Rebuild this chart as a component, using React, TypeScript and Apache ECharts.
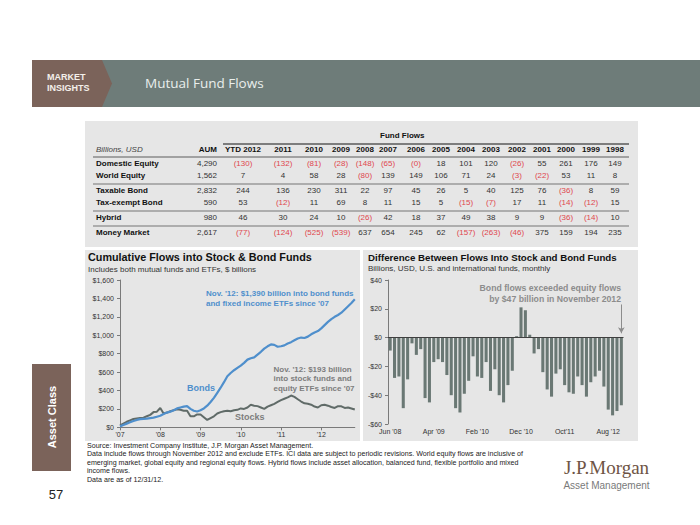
import React, { useEffect, useRef } from "react";
import * as echarts from "echarts";

const FONT = "'Liberation Sans', Arial, sans-serif";

// ---------- Table data ----------
const tableColumns = ["AUM", "YTD 2012", "2011", "2010", "2009", "2008", "2007", "2006", "2005", "2004", "2003", "2002", "2001", "2000", "1999", "1998"];
const assetClasses = ["Domestic Equity", "World Equity", "Taxable Bond", "Tax-exempt Bond", "Hybrid", "Money Market"];
const domesticEquity = [4290, -130, -132, -81, -28, -148, -65, -0, 18, 101, 120, -26, 55, 261, 176, 149];
const worldEquity = [1562, 7, 4, 58, 28, -80, 139, 149, 106, 71, 24, -3, -22, 53, 11, 8];
const taxableBond = [2832, 244, 136, 230, 311, 22, 97, 45, 26, 5, 40, 125, 76, -36, 8, 59];
const taxExemptBond = [590, 53, -12, 11, 69, 8, 11, 15, 5, -15, -7, 17, 11, -14, -12, 15];
const hybrid = [980, 46, 30, 24, 10, -26, 42, 18, 37, 49, 38, 9, 9, -36, -14, 10];
const moneyMarket = [2617, -77, -124, -525, -539, 637, 654, 245, 62, -157, -263, -46, 375, 159, 194, 235];
const tableRows = [domesticEquity, worldEquity, taxableBond, taxExemptBond, hybrid, moneyMarket];

// ---------- Cumulative flows (monthly, Jan '07 - Nov '12), $ billions ----------
const lineYearTicks = ["'07", "'08", "'09", "'10", "'11", "'12"];
const bondsCumulative = [
  10, 25, 40, 55, 68, 80, 88, 92, 95, 100, 105, 115,
  125, 145, 160, 170, 185, 205, 215, 225, 230, 200, 180, 172,
  185, 205, 235, 275, 320, 375, 430, 490, 555, 590, 620, 645,
  670, 700, 735, 750, 760, 790, 820, 855, 880, 900, 895, 875,
  880, 890, 910, 925, 945, 965, 975, 970, 985, 1010, 1030, 1045,
  1075, 1110, 1145, 1175, 1200, 1220, 1245, 1280, 1315, 1350, 1390,
];
const stocksCumulative = [
  20, 40, 60, 75, 90, 95, 100, 105, 120, 135, 165, 170,
  210, 150, 160, 175, 185, 195, 190, 180, 180, 120, 120, 140,
  140, 110, 80, 100, 120, 150, 165, 175, 180, 175, 185, 190,
  205, 200, 215, 245, 235, 230, 215, 200, 225, 240, 255, 275,
  295, 310, 325, 345, 330, 305, 280, 260, 255, 245, 225, 215,
  240, 245, 235, 220, 210, 230, 228, 210, 215, 205, 193,
];

// ---------- Monthly difference (Jun '08 - Nov '12), $ billions ----------
const barTickLabels = ["Jun '08", "Apr '09", "Feb '10", "Dec '10", "Oct'11", "Aug '12"];
const flowDifference = [
  -9, -28, -27, -49, -29, -4, -12, -8, -42, -45,
  -17, -15, -17, -26, -40, -49, -52, -39, -30, -13,
  -27, -28, -17, -37, -22, -40, -45, -33, -23, 1,
  21, 19, 2, -11, -8, -24, -36, -41, -25, -22,
  -33, -38, -39, -27, -33, -41, -31, -27, -23, -34,
  -50, -54, -51, -47,
];

const MONTHS = ["Jan", "Feb", "Mar", "Apr", "May", "Jun", "Jul", "Aug", "Sep", "Oct", "Nov", "Dec"];
const monthRange = (startYear: number, startMonth: number, count: number) => {
  const out: string[] = [];
  for (let i = 0; i < count; i++) {
    const m = startMonth + i;
    const y = startYear + Math.floor(m / 12);
    out.push(`${MONTHS[m % 12]} '${String(y % 100).padStart(2, "0")}`);
  }
  return out;
};
const lineMonths = monthRange(2007, 0, bondsCumulative.length);
const barMonths = monthRange(2008, 5, flowDifference.length);

const fmtFlow = (v: number) => (v < 0 || Object.is(v, -0) ? `(${Math.abs(v)})` : String(v));
const isNeg = (v: number) => v < 0 || Object.is(v, -0);

function txt(text: string, x: number, y: number, o: any = {}) {
  const align = o.align || "left";
  const size = o.size || 8;
  const weight = o.weight || "normal";
  const style = o.italic ? "italic " : "";
  return {
    type: "text",
    x,
    y,
    rotation: o.rotation || 0,
    z: 20,
    silent: true,
    style: {
      text,
      fill: o.color || "#222",
      font: `${style}${weight} ${size}px ${o.family || FONT}`,
      textAlign: align,
      align,
      textVerticalAlign: "middle",
      verticalAlign: "middle",
    },
  };
}

function rect(x: number, y: number, w: number, h: number, fill: string, z = -5) {
  return { type: "rect", z, silent: true, shape: { x, y, width: w, height: h }, style: { fill } };
}
function hline(x1: number, x2: number, y: number, color: string, width: number) {
  return { type: "line", z: 5, silent: true, shape: { x1, y1: y, x2, y2: y }, style: { stroke: color, lineWidth: width } };
}

export default function App() {
  const ref = useRef<HTMLDivElement>(null);
  useEffect(() => {
    if (!ref.current) return;
    const chart = echarts.init(ref.current, undefined, { renderer: "svg" });

    const PANEL = "#e6e6e6";
    const els: any[] = [];
    // header band
    els.push(rect(32, 60, 668, 47, "#6e7c79", -4));
    els.push({
      type: "polygon", z: -3, silent: true,
      shape: { points: [[32, 60], [102, 60], [112, 83.5], [102, 107], [32, 107]] },
      style: { fill: "#7b635a" },
    });
    els.push(txt("MARKET", 47, 77, { size: 9, weight: "bold", color: "#f4f0ea" }));
    els.push(txt("INSIGHTS", 47, 87.5, { size: 9, weight: "bold", color: "#f4f0ea" }));
    els.push(txt("Mutual Fund Flows", 145, 83, { size: 13.5, color: "#e9eeec", family: "'Open Sans', sans-serif" }));

    // panels
    els.push(rect(85, 121, 553, 126, PANEL));
    els.push(rect(85, 250, 275, 191, PANEL));
    els.push(rect(363, 250, 275, 191, PANEL));

    // asset class tab
    els.push(rect(32, 364, 39, 107, "#7b635a", -4));
    els.push(txt("Asset Class", 52, 417, { size: 11, weight: "bold", color: "#ffffff", align: "center", rotation: Math.PI / 2 }));
    els.push(txt("57", 56, 494, { size: 13, color: "#222", align: "center" }));

    // table
    const colX = [217, 243, 283, 314, 341, 365, 388, 416, 441, 466, 491, 517, 542, 566, 591, 615];
    const rowY = [163.3, 175.3, 190.3, 202.3, 217.7, 232.3];
    els.push(txt("Fund Flows", 380, 135, { size: 8, weight: "bold", color: "#111" }));
    els.push(hline(223, 629, 144, "#7d7d7d", 2));
    els.push(txt("Billions, USD", 96, 149.5, { size: 8, italic: true, color: "#444" }));
    tableColumns.forEach((c, i) => {
      els.push(txt(c, colX[i], 149.5, { size: 8, weight: "bold", color: "#111", align: i === 0 ? "right" : "center" }));
    });
    els.push(hline(93, 629, 157, "#8a8a8a", 1.5));
    [184, 211, 226].forEach((y) => els.push(hline(93, 629, y, "#9a9a9a", 1.5)));
    assetClasses.forEach((name, r) => {
      els.push(txt(name, 96, rowY[r], { size: 8, weight: "bold", color: "#111" }));
      tableRows[r].forEach((v, i) => {
        if (i === 0) {
          els.push(txt(v.toLocaleString("en-US"), colX[0], rowY[r], { size: 8, color: "#333", align: "right" }));
        } else {
          els.push(txt(fmtFlow(v), colX[i], rowY[r], { size: 8, color: isNeg(v) ? "#e0464e" : "#333", align: "center" }));
        }
      });
    });

    // chart titles
    els.push(txt("Cumulative Flows into Stock & Bond Funds", 88, 257, { size: 10.8, weight: "bold", color: "#111" }));
    els.push(txt("Includes both mutual funds and ETFs, $ billions", 88, 269, { size: 8, color: "#333" }));
    els.push(txt("Difference Between Flows Into Stock and Bond Funds", 368, 257, { size: 9.7, weight: "bold", color: "#111" }));
    els.push(txt("Billions, USD, U.S. and international funds, monthly", 368, 268.5, { size: 8, color: "#333" }));

    // left annotations
    const BLUE = "#4f8fcc";
    els.push(txt("Nov. '12: $1,390 billion into bond funds", 206, 293.3, { size: 8, weight: "bold", color: BLUE }));
    els.push(txt("and fixed income ETFs since '07", 206, 303.3, { size: 8, weight: "bold", color: BLUE }));
    els.push(txt("Bonds", 187, 388, { size: 9, weight: "bold", color: BLUE }));
    els.push(txt("Nov. '12: $193 billion", 273.5, 369, { size: 8, weight: "bold", color: "#7d7d7d" }));
    els.push(txt("into stock funds and", 273.5, 378.7, { size: 8, weight: "bold", color: "#7d7d7d" }));
    els.push(txt("equity ETFs since '07", 273.5, 388.3, { size: 8, weight: "bold", color: "#7d7d7d" }));
    els.push(txt("Stocks", 235, 416.7, { size: 9, weight: "bold", color: "#7d7d7d" }));

    // right annotation
    els.push(txt("Bond flows exceeded equity flows", 621, 288.3, { size: 8.7, weight: "bold", color: "#8c8c8c", align: "right" }));
    els.push(txt("by $47 billion in November 2012", 621, 299.3, { size: 8.7, weight: "bold", color: "#8c8c8c", align: "right" }));

    // footer
    const footer = [
      "Source: Investment Company Institute, J.P. Morgan Asset Management.",
      "Data include flows through November 2012 and exclude ETFs. ICI data are subject to periodic revisions. World equity flows are inclusive of",
      "emerging market, global equity and regional equity flows. Hybrid flows include asset allocation, balanced fund, flexible portfolio and mixed",
      "income flows.",
      "Data are as of 12/31/12.",
    ];
    footer.forEach((t, i) => els.push(txt(t, 87, 445.5 + i * 8.5, { size: 7.1, color: "#222" })));

    // logo
    els.push(txt("J.P.Morgan", 606.5, 467, { size: 19, color: "#6e5445", align: "center", family: "'Liberation Serif', 'DejaVu Serif', serif" }));
    els.push(txt("Asset Management", 606.5, 485, { size: 10, color: "#7a7a7a", align: "center" }));

    const axisGray = "#7a7a7a";
    const option: any = {
      animation: false,
      backgroundColor: "#ffffff",
      textStyle: { fontFamily: FONT },
      grid: [
        { left: 120, right: 345.2, top: 280, bottom: 97.7, outerBoundsMode: "none", containLabel: false },
        { left: 388, right: 76.5, top: 280, bottom: 101, outerBoundsMode: "none", containLabel: false },
      ],
      xAxis: [
        {
          gridIndex: 0, type: "category", data: lineMonths, boundaryGap: false,
          axisLine: { show: true, lineStyle: { color: axisGray, width: 1 } },
          axisTick: { show: true, interval: 11, length: 3, lineStyle: { color: axisGray } },
          axisLabel: {
            interval: 11, fontSize: 7, color: "#333", margin: 4, fontFamily: FONT,
            formatter: (_v: string, idx: number) => lineYearTicks[Math.floor(idx / 12)] ?? "",
          },
          splitLine: { show: false },
        },
        {
          gridIndex: 1, type: "category", data: barMonths, boundaryGap: true,
          axisLine: { show: false, onZero: false },
          axisTick: { show: false },
          axisLabel: {
            interval: 9, fontSize: 7, color: "#333", margin: 4, fontFamily: FONT,
            formatter: (_v: string, idx: number) => barTickLabels[Math.floor(idx / 10)] ?? "",
          },
          splitLine: { show: false },
        },
      ],
      yAxis: [
        {
          gridIndex: 0, type: "value", min: 0, max: 1600, interval: 200,
          axisLine: { show: true, lineStyle: { color: axisGray } },
          axisTick: { show: true, length: 3, lineStyle: { color: axisGray } },
          splitLine: { show: false },
          axisLabel: { fontSize: 7, color: "#333", margin: 6, fontFamily: FONT, formatter: (v: number) => "$" + v.toLocaleString("en-US") },
        },
        {
          gridIndex: 1, type: "value", min: -60, max: 40, interval: 20,
          axisLine: { show: true, lineStyle: { color: axisGray } },
          axisTick: { show: true, length: 3, lineStyle: { color: axisGray } },
          splitLine: { show: false },
          axisLabel: { fontSize: 7, color: "#333", margin: 6, fontFamily: FONT, formatter: (v: number) => (v < 0 ? "-$" + -v : "$" + v) },
        },
      ],
      series: [
        {
          name: "Stocks", type: "line", xAxisIndex: 0, yAxisIndex: 0, data: stocksCumulative,
          showSymbol: false, symbol: "none", lineStyle: { color: "#606b68", width: 2 }, itemStyle: { color: "#606b68" }, z: 3,
        },
        {
          name: "Bonds", type: "line", xAxisIndex: 0, yAxisIndex: 0, data: bondsCumulative,
          showSymbol: false, symbol: "none", lineStyle: { color: BLUE, width: 2.2 }, itemStyle: { color: BLUE }, z: 4,
        },
        {
          name: "Difference", type: "bar", xAxisIndex: 1, yAxisIndex: 1, data: flowDifference,
          barCategoryGap: "30%", itemStyle: { color: "#6a7874" },
          markLine: {
            silent: true, symbol: ["none", "none"], label: { show: false },
            lineStyle: { color: "#3f3f3f", width: 1, type: "solid" },
            data: [
              { yAxis: 0 },
              [
                { coord: [barMonths[barMonths.length - 1], 23], symbol: "none", lineStyle: { color: "#8c8c8c", width: 1, type: "solid" } },
                { coord: [barMonths[barMonths.length - 1], 3], symbol: "arrow", symbolSize: [5, 6], lineStyle: { color: "#8c8c8c", width: 1, type: "solid" } },
              ],
            ],
          },
        },
      ],
      graphic: { elements: els },
    };
    chart.setOption(option);
    return () => chart.dispose();
  }, []);
  return (
    <div
      ref={ref}
      style={{ position: "fixed", left: 0, top: 0, width: 700, height: 525, background: "#fff" }}
    />
  );
}
